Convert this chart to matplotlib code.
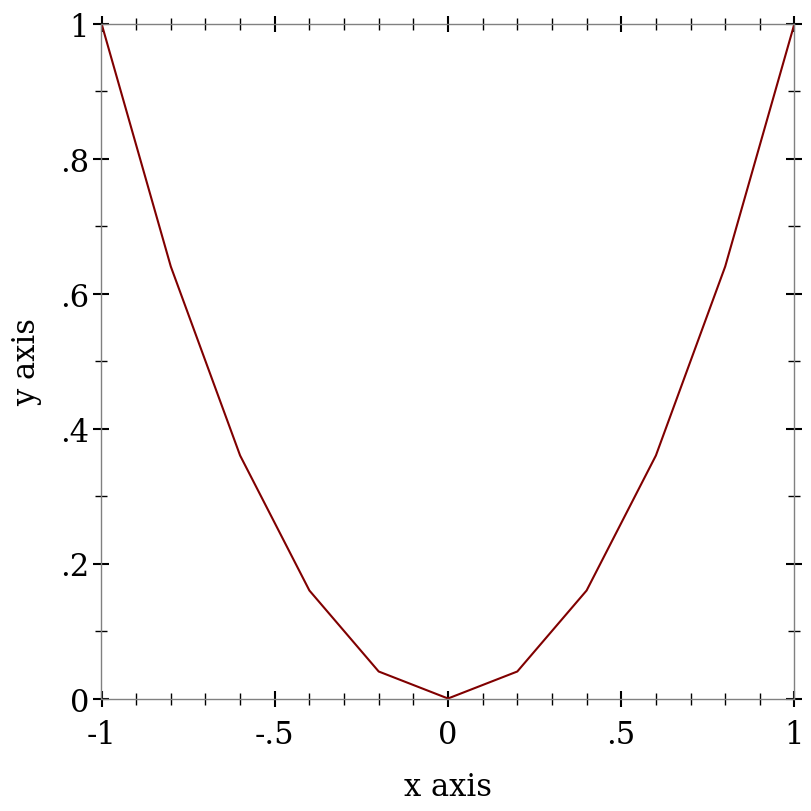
import matplotlib
matplotlib.use("Agg")
import matplotlib.pyplot as plt
from matplotlib.ticker import FixedLocator, MultipleLocator

x_vals = [-1.0, -0.8, -0.6, -0.4, -0.2, 0.0, 0.2, 0.4, 0.6, 0.8, 1.0]
y_vals = [1.0, 0.64, 0.36, 0.16, 0.04, 0.0, 0.04, 0.16, 0.36, 0.64, 1.0]

x_ticks = [-1, -0.5, 0, 0.5, 1]
x_tick_labels = ["-1", "-.5", "0", ".5", "1"]
y_ticks = [0, 0.2, 0.4, 0.6, 0.8, 1]
y_tick_labels = ["0", ".2", ".4", ".6", ".8", "1"]

plt.rcParams["font.family"] = "DejaVu Serif"

fig = plt.figure(figsize=(8.12, 8.12), dpi=100)
ax = fig.add_axes([101.5 / 812, 1 - 699.5 / 812, 693 / 812, 675 / 812])

ax.plot(x_vals, y_vals, color="#800000", linewidth=1.5)

ax.set_xlim(-1, 1)
ax.set_ylim(0, 1)

ax.xaxis.set_major_locator(FixedLocator(x_ticks))
ax.set_xticklabels(x_tick_labels)
ax.yaxis.set_major_locator(FixedLocator(y_ticks))
ax.set_yticklabels(y_tick_labels)
ax.xaxis.set_minor_locator(MultipleLocator(0.1))
ax.yaxis.set_minor_locator(MultipleLocator(0.1))

for s in ax.spines.values():
    s.set_color("#808080")
    s.set_linewidth(1.0)

ax.tick_params(which="major", direction="inout", length=12, width=1.5,
               color="black", labelsize=22, top=True, right=True)
ax.tick_params(which="minor", direction="inout", length=8, width=1.0,
               color="black", top=True, right=True)
ax.tick_params(axis="x", which="major", pad=9)
ax.tick_params(axis="y", which="major", pad=3)

ax.set_xlabel("x axis", fontsize=22, labelpad=15)
ax.set_ylabel("y axis", fontsize=22, labelpad=13)

fig.savefig("out.png", dpi=100)
